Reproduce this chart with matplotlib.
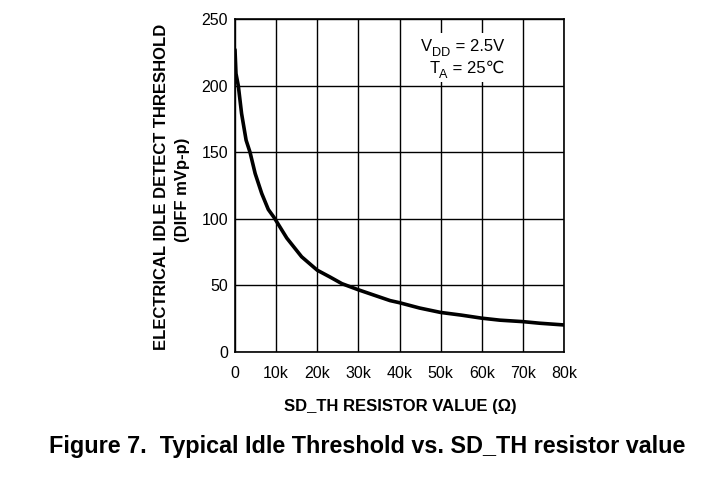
import matplotlib
matplotlib.use("Agg")
import matplotlib.pyplot as plt
from matplotlib.patches import Rectangle

plt.rcParams['font.family'] = ['Liberation Sans', 'DejaVu Sans']

# Data
resistance = [0, 240, 800, 1600, 2700, 3650, 4900, 6500, 8100, 9500, 12600,
              16200, 20000, 23100, 26000, 30000, 33600, 37700, 40000, 44900,
              50000, 55000, 60000, 64400, 70000, 74100, 80000]
threshold = [227, 209, 200, 179, 159, 150, 134, 119, 107, 101, 85.5,
             71.5, 61.4, 56.3, 51.3, 46.7, 42.9, 38.6, 37, 33,
             29.7, 27.7, 25.4, 23.9, 22.8, 21.6, 20.3]

xticks = [0, 10000, 20000, 30000, 40000, 50000, 60000, 70000, 80000]
xticklabels = ['0', '10k', '20k', '30k', '40k', '50k', '60k', '70k', '80k']
yticks = [0, 50, 100, 150, 200, 250]

W, H = 721, 484
fig = plt.figure(figsize=(W / 100, H / 100), dpi=100)
ax = fig.add_axes([235 / W, 1 - 352 / H, (564 - 235) / W, (352 - 19) / H])

ax.plot(resistance, threshold, color='black', lw=2.6, solid_joinstyle='round',
        solid_capstyle='round', zorder=3)

ax.set_xlim(0, 80000)
ax.set_ylim(0, 250)
ax.set_xticks(xticks)
ax.set_xticklabels(xticklabels)
ax.set_yticks(yticks)
ax.grid(True, color='black', lw=1.0)
ax.tick_params(length=0, labelsize=11.5)
ax.tick_params(axis='x', pad=10)
ax.tick_params(axis='y', pad=5)
for s in ax.spines.values():
    s.set_linewidth(1.2)

# white box behind the condition text
ax.add_patch(Rectangle((405 / W, 1 - 82 / H), (508 - 405) / W, (82 - 33) / H,
                       transform=fig.transFigure, facecolor='white',
                       edgecolor='none', zorder=2))

renderer = fig.canvas.get_renderer()


def compose(right_px, base_px, parts, size):
    """Draw text pieces so the run ends at right_px; parts = (text, is_subscript)."""
    items = []
    for txt, sub in parts:
        fs = size * 0.76 if sub else size
        t = fig.text(0, 0, txt, fontsize=fs, ha='left', va='baseline', zorder=5)
        items.append((t, sub, t.get_window_extent(renderer).width))
    x = right_px - sum(w for _, _, w in items)
    for t, sub, w in items:
        y = base_px + (5 if sub else 0)
        t.set_position((x / W, 1 - y / H))
        x += w


compose(504, 51, [('V', False), ('DD', True), (' = 2.5V', False)], 12)
compose(504, 73, [('T', False), ('A', True), (' = 25℃', False)], 12)

fig.text(161 / W, 1 - 187 / H, 'ELECTRICAL IDLE DETECT THRESHOLD', rotation=90,
         ha='center', va='center', fontsize=12, fontweight='bold')
fig.text(183 / W, 1 - 190 / H, '(DIFF mVp-p)', rotation=90,
         ha='center', va='center', fontsize=12, fontweight='bold')
fig.text(400 / W, 1 - 406 / H, 'SD_TH RESISTOR VALUE (Ω)', ha='center', va='center',
         fontsize=12, fontweight='bold')
fig.text(367 / W, 1 - 447 / H, 'Figure 7.  Typical Idle Threshold vs. SD_TH resistor value',
         ha='center', va='center', fontsize=16.8, fontweight='bold')

fig.savefig('out.png', dpi=100)
